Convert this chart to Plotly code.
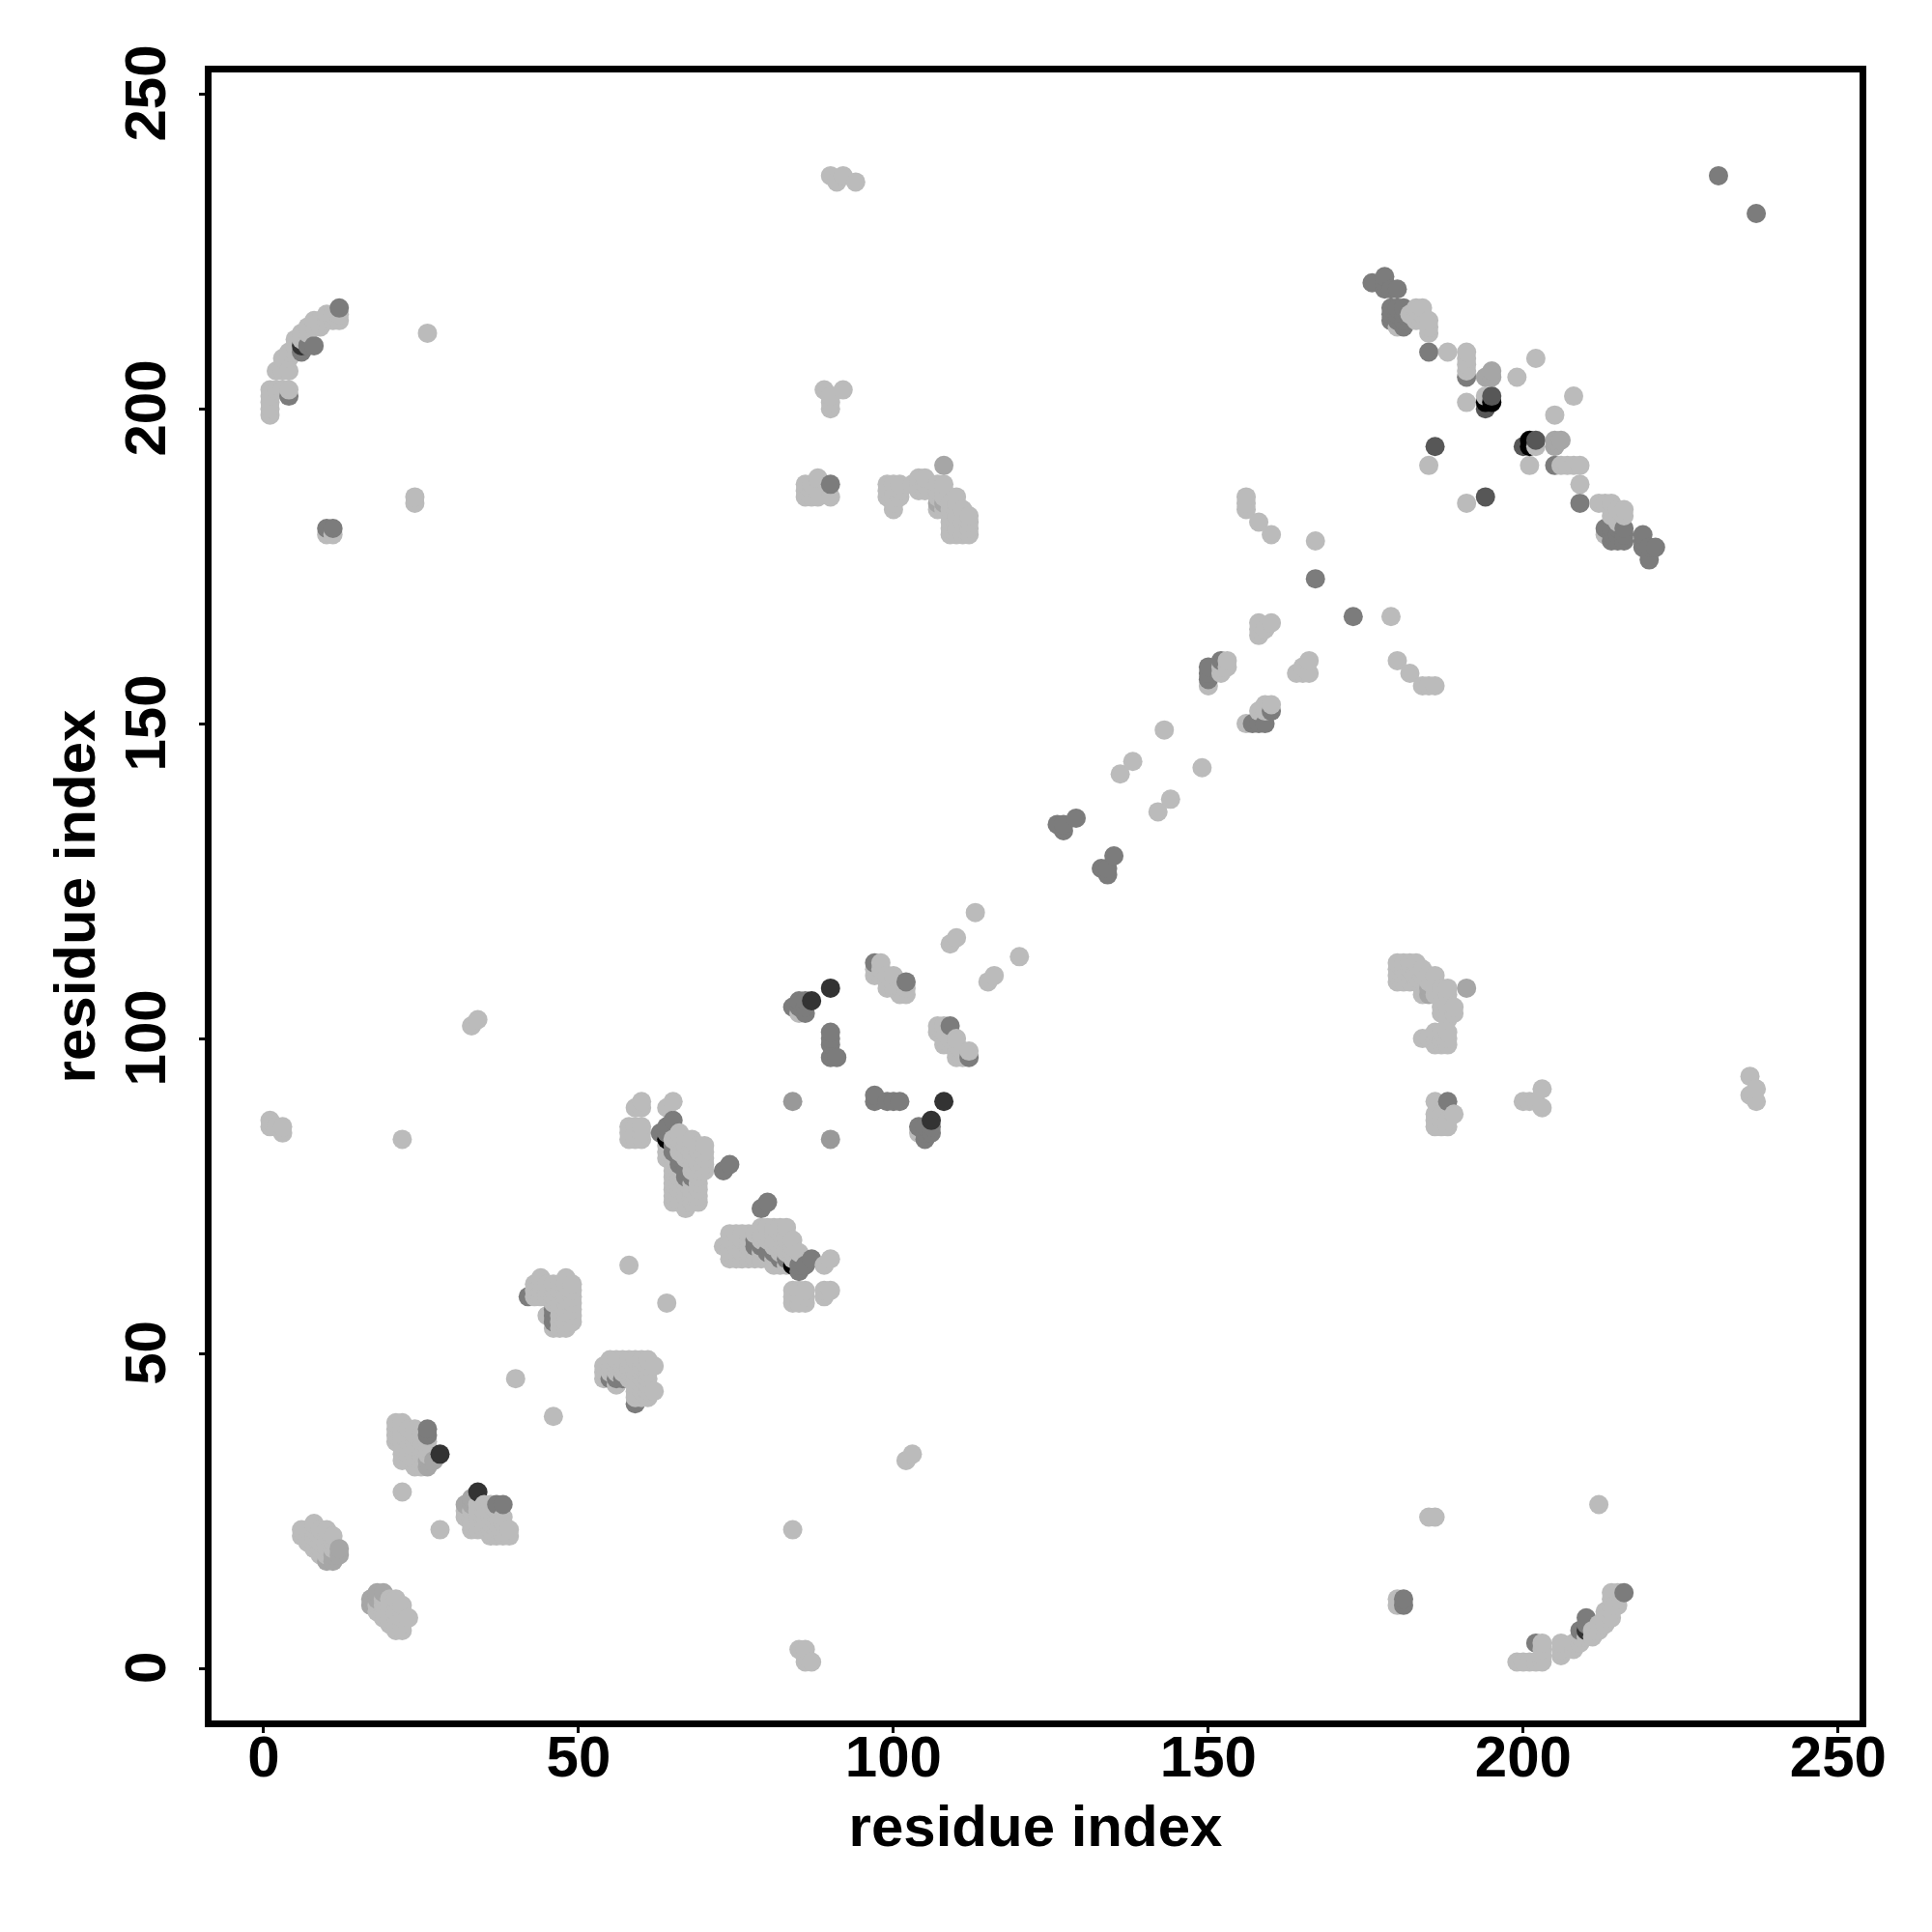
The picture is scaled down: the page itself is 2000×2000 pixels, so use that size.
import plotly.graph_objects as go

# Contacts as (residue i, residue j); the map shows each both ways.
contacts_light = [
    (1,86),(1,87),(2,86),(3,85),(3,86),(22,84),(22,28),(33,102),(34,103),(40,46),(58,64),
    (6,21),(6,22),(7,20),(7,21),(7,22),(8,19),(8,20),(8,21),(8,22),(8,23),(9,18),(9,19),(9,20),(9,21),(9,22),
    (10,18),(10,19),(10,20),(10,21),(10,22),(11,19),(11,20),(11,21),
    (21,36),(21,37),(21,38),(21,39),(22,33),(22,34),(22,35),(22,36),(22,37),(22,38),(22,39),
    (23,33),(23,34),(23,35),(23,36),(23,37),(23,38),(24,32),(24,33),(24,34),(24,35),(24,36),(24,37),(24,38),
    (25,32),(25,33),(25,34),(25,35),(25,36),(25,37),(26,34),(26,35),(26,36),
    (43,59),(43,60),(43,61),(44,59),(44,60),(44,61),(44,62),(45,56),(45,59),(45,60),(45,61),
    (46,54),(46,58),(46,59),(46,60),(46,61),(47,54),(47,55),(47,56),(47,57),(47,58),(47,59),(47,60),(47,61),
    (48,54),(48,55),(48,56),(48,57),(48,58),(48,59),(48,60),(48,61),(48,62),
    (49,55),(49,56),(49,57),(49,58),(49,59),(49,60),(49,61),
    (58,84),(58,85),(58,86),(59,84),(59,85),(59,86),(60,84),(60,85),(60,86),(59,89),(60,89),(60,90),(64,89),(65,90),
    (64,81),(64,82),(64,83),(65,74),(65,75),(65,76),(65,77),(65,78),(65,79),(65,80),(65,81),(65,84),
    (66,74),(66,75),(66,76),(66,77),(66,78),(66,79),(66,82),(66,83),(66,84),(66,85),
    (67,73),(67,74),(67,75),(67,76),(67,77),(67,81),(67,82),(67,83),(67,84),
    (68,74),(68,75),(68,76),(68,77),(68,79),(68,80),(68,81),(68,82),(68,83),(68,84),
    (69,74),(69,75),(69,76),(69,77),(69,78),(69,79),(69,80),(69,81),(69,82),(69,83),
    (70,79),(70,80),(70,81),(70,82),(70,83),
    (89,59),(89,60),(90,60),(85,104),(89,64),(90,65),(97,110),(97,111),(98,110),(98,111),(98,112),(99,108),(99,109),(99,110),
    (100,108),(100,109),(100,110),(101,107),(101,108),(102,107),(102,108),
    (108,99),(108,101),(108,102),(109,99),(109,100),(110,97),(110,98),(110,99),(110,100),(111,97),(111,98),(112,98),
    (109,115),(110,116),(113,120),(109,180),(109,181),(109,182),(109,183),(110,180),(110,181),(110,182),(110,183),
    (111,180),(111,181),(111,182),(111,183),(112,180),(112,181),(112,182),(112,183),
    (136,142),(138,144),(143,149),(150,156),(152,158),(152,159),(153,159),(153,160),
    (156,184),(156,185),(156,186),(158,182),(160,180),
    (158,164),(158,165),(158,166),(159,165),(160,166),(167,179),
    (90,237),(91,236),(92,237),(94,236),(26,212),(24,185),(24,186),(10,180),(11,180),
    (84,22),(102,33),(103,34),
    (86,186),(86,187),(86,188),(87,186),(87,187),(87,188),(88,186),(88,187),(88,189),(90,186),
    (89,203),(90,200),(90,201),(90,202),(92,203),
    (1,199),(1,200),(1,201),(1,202),(1,203),(2,203),(3,203),(4,203),(2,206),(3,206),(4,206),
    (3,208),(4,208),(4,209),(5,209),(5,210),(5,211),(6,211),(6,212),(7,212),(7,213),(8,213),(8,214),(9,213),(9,214),
    (10,214),(10,215),(11,214),(11,215),(12,214),(12,215),
    (99,186),(99,187),(99,188),(100,184),(100,185),(100,186),(100,187),(100,188),(101,186),(101,187),(101,188),
    (103,188),(104,187),(104,188),(104,189),(105,187),(105,188),(105,189),(107,186),(107,187),(107,188),(108,186),(108,187),(108,188),
    (107,184),(108,184),(109,184),(109,185),(110,184),(110,185),(110,186),(111,184),
    (180,213),(182,215),(183,214),(183,215),(183,216),(184,214),(184,215),(184,216),(185,212),(185,213),(185,214),
    (188,209),(185,191),(191,206),(191,207),(191,208),(191,209),(191,201),(194,202),(199,205),(202,208),
    (84,58),(84,59),(84,60),(85,58),(85,59),(85,60),(86,58),(86,59),(86,60),
]
contacts_mid = [
    (10,17),(11,17),(11,18),(12,18),(12,19),(26,32),(26,33),(27,33),(108,191),(108,185),(107,185),
    (194,205),(195,205),(195,206),
]
contacts_soft = [(84,90)]
contacts_gray = [
    (26,37),(26,38),(42,59),(46,55),(46,56),(46,57),(63,85),(64,85),(64,86),(65,87),(65,82),(65,83),(66,80),(66,81),(67,78),(67,79),(68,78),
    (73,79),(74,80),(84,105),(85,105),(85,106),(86,104),(86,105),(86,106),
    (90,97),(90,99),(90,100),(90,101),(91,97),(97,112),(102,109),(112,97),
    (126,134),(127,133),(127,134),(129,135),(150,157),(150,158),(150,159),(152,160),
    (167,173),(231,237),(10,181),(11,181),(90,188),(12,216),(4,202),(6,209),(7,210),(8,210),
    (176,220),(178,219),(178,220),(178,221),(179,219),(180,219),
    (179,214),(179,215),(179,216),(180,214),(180,215),(180,216),(181,213),(181,214),(181,215),(181,216),
    (185,209),(191,205),
]
contacts_dark = [(186,194),(194,200),(195,202)]
contacts_charcoal = [(28,34),(90,108),(87,106),(6,210)]
contacts_black = [(64,84),(194,201),(195,201)]

gray_light = "#bbbbbb"
gray_mid = "#a6a6a6"
gray_soft = "#999999"
gray_gray = "#7c7c7c"
gray_dark = "#575757"
gray_charcoal = "#333333"
gray_black = "#000000"

tick_values = [0, 50, 100, 150, 200, 250]
tick_labels = ["0", "50", "100", "150", "200", "250"]
axis_label = "residue index"

tiers = [(contacts_light, gray_light), (contacts_mid, gray_mid), (contacts_soft, gray_soft),
         (contacts_gray, gray_gray), (contacts_dark, gray_dark),
         (contacts_charcoal, gray_charcoal), (contacts_black, gray_black)]
cells = {}
for pairs, colour in tiers:
    for i, j in pairs:
        cells[(i, j)] = colour
        cells[(j, i)] = colour
ordered = sorted(cells)
xs = [p[0] for p in ordered]
ys = [p[1] for p in ordered]
cols = [cells[p] for p in ordered]

font = "Liberation Sans"
title_font = dict(family=font, size=60, color="black", weight="bold")
fig = go.Figure(go.Scatter(x=xs, y=ys, mode="markers",
                           marker=dict(size=20, color=cols, line=dict(width=0))))
axis = dict(
    tickmode="array", tickvals=tick_values,
    showgrid=False, zeroline=False, showline=True, mirror=True,
    linecolor="black", linewidth=7, ticks="outside", ticklen=6, tickwidth=3, tickcolor="black",
    tickfont=dict(family=font, size=60, color="black", weight="bold"),
)
fig.update_layout(
    width=2000, height=2000, autosize=False,
    paper_bgcolor="white", plot_bgcolor="white", showlegend=False,
    margin=dict(l=211, r=83, t=67, b=227),
    font=dict(family=font),
    xaxis=dict(axis, range=[-8.28, 253.4], tickangle=0, ticklabelstandoff=-27, ticktext=tick_labels,
               title=dict(text=axis_label, standoff=20, font=title_font)),
    # the trailing no-break space centres the rotated digits on their ticks
    yaxis=dict(axis, range=[-8.28, 253.4], tickangle=-90, ticklabelstandoff=11,
               ticktext=[t + "\u00a0" for t in tick_labels],
               title=dict(text=axis_label, standoff=2, font=title_font)),
)
fig.write_html("out.html")
